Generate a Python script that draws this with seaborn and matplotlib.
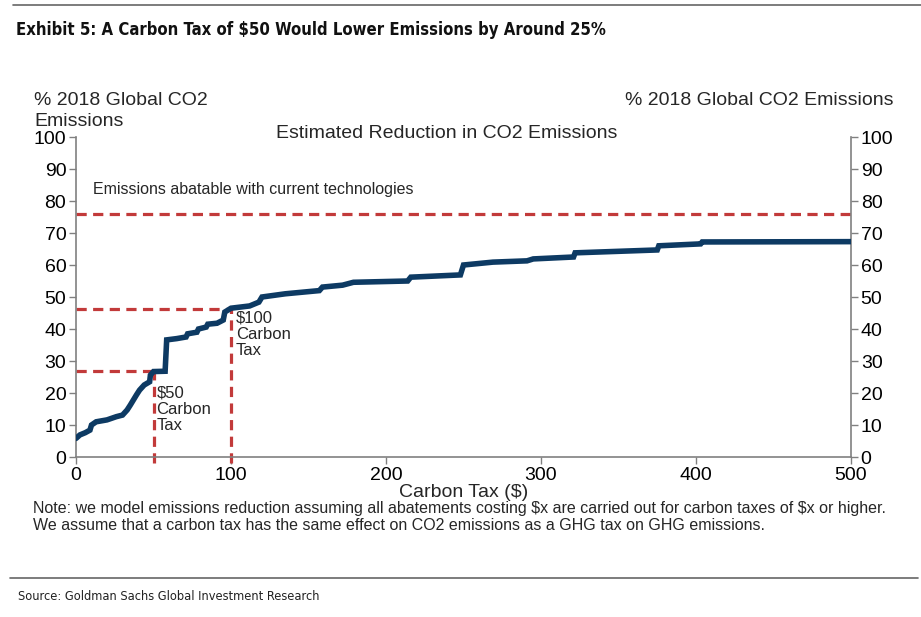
import matplotlib
matplotlib.use("Agg")
import matplotlib.pyplot as plt
import seaborn as sns
import pandas as pd

# ---- data ----
carbon_tax = [0, 2.5, 6, 9, 10, 13, 20, 26, 30, 33, 35, 37, 39, 41, 44, 47.5, 48, 50, 57.5, 58.5,
              65, 71, 72, 78, 79, 84, 85, 91, 95, 96, 99, 100, 112, 118, 120, 135, 157, 159, 172, 179,
              214, 216, 248, 250, 269, 291, 295, 321, 322, 375, 376, 403, 404, 500]
reduction = [5.8, 6.9, 7.6, 8.4, 10, 11, 11.6, 12.6, 13.1, 14.7, 16.2, 17.8, 19.4, 20.9, 22.5, 23.5, 25.6, 26.7, 26.8, 36.6,
             37, 37.5, 38.5, 39, 40, 40.6, 41.5, 41.8, 42.8, 45.3, 46.2, 46.5, 47.2, 48.4, 50, 51, 52, 53.1, 53.7, 54.6,
             55, 56.2, 56.9, 60, 60.9, 61.3, 61.9, 62.5, 63.8, 64.7, 66, 66.6, 67.2, 67.3]
abatable_level = 76
tax_points = [50, 100]
tax_levels = [26.8, 46.2]
x_ticks = [0, 100, 200, 300, 400, 500]
y_ticks = list(range(0, 101, 10))

df = pd.DataFrame({"tax": carbon_tax, "red": reduction})

sns.set_theme(style="white")
body = "Liberation Sans"
plt.rcParams["font.family"] = [body, "DejaVu Sans"]

fig = plt.figure(figsize=(9.21, 6.17), dpi=100)
W, H = 921, 617
ax = fig.add_axes([76 / W, (H - 457) / H, (851 - 76) / W, (457 - 137) / H])

navy = "#0d3a63"
red = "#c23a3a"
grey = "#808080"
dash = (0, (3.2, 2.0))

# reference lines
ax.axhline(abatable_level, color=red, lw=2.3, ls=dash, zorder=1)
for tx, lv in zip(tax_points, tax_levels):
    ax.plot([0, tx], [lv, lv], color=red, lw=2.3, ls=dash, zorder=1)
    ax.plot([tx, tx], [-2, lv], color=red, lw=2.3, ls=dash, zorder=1, clip_on=False)

sns.lineplot(data=df, x="tax", y="red", ax=ax, color=navy, lw=4.0, zorder=3,
             solid_joinstyle="miter")

ax.set_xlim(0, 500)
ax.set_ylim(0, 100)
ax.set_xticks(x_ticks)
ax.set_yticks(y_ticks)
ax.tick_params(axis="both", labelsize=14, length=5, color=grey, width=1, direction="out",
               labelcolor="black", pad=2)
ax.tick_params(axis="y", right=True, labelright=True, left=True)
ax.tick_params(axis="x", bottom=True)
ax.spines["top"].set_visible(False)
for s in ["left", "right", "bottom"]:
    ax.spines[s].set_color(grey)
    ax.spines[s].set_linewidth(1.2)
ax.set_ylabel("")
ax.set_xlabel("Carbon Tax ($)", fontsize=14)
ax.xaxis.set_label_coords(0.5, -0.083)

ax.text(11, 83.5, "Emissions abatable with current technologies", fontsize=11.5, va="center")
ax.text(52, 22.3, "\\$50\nCarbon\nTax", fontsize=12, va="top", linespacing=1.1)
ax.text(103, 45.8, "\\$100\nCarbon\nTax", fontsize=12, va="top", linespacing=1.1)

fig.text(447 / W, 1 - 133 / H, "Estimated Reduction in CO2 Emissions", fontsize=14,
         ha="center", va="center")
fig.text(34 / W, 1 - 92 / H, "% 2018 Global CO2\nEmissions", fontsize=14, ha="left", va="top",
         linespacing=1.3)
fig.text(893 / W, 1 - 92 / H, "% 2018 Global CO2 Emissions", fontsize=14, ha="right", va="top")

fig.text(16 / W, 1 - 30 / H, "Exhibit 5: A Carbon Tax of \\$50 Would Lower Emissions by Around 25%",
         fontsize=12, fontweight="bold", family="DejaVu Sans", fontstretch="condensed",
         ha="left", va="center", color="#111111")
fig.text(33 / W, 1 - 508 / H,
         "Note: we model emissions reduction assuming all abatements costing \\$x are carried out for carbon taxes of \\$x or higher.",
         fontsize=11.5, ha="left", va="center")
fig.text(33 / W, 1 - 526 / H,
         "We assume that a carbon tax has the same effect on CO2 emissions as a GHG tax on GHG emissions.",
         fontsize=11.5, ha="left", va="center")
fig.text(18 / W, 1 - 597 / H, "Source: Goldman Sachs Global Investment Research",
         fontsize=9.2, family="DejaVu Sans", fontstretch="condensed",
         ha="left", va="center", color="#222222")

fig.add_artist(plt.Line2D([13 / W, 1], [1 - 5 / H, 1 - 5 / H], color="#666666", lw=1.2))
fig.add_artist(plt.Line2D([10 / W, 918 / W], [1 - 578 / H, 1 - 578 / H], color="#666666", lw=1.2))

fig.savefig("out.png", dpi=100)
